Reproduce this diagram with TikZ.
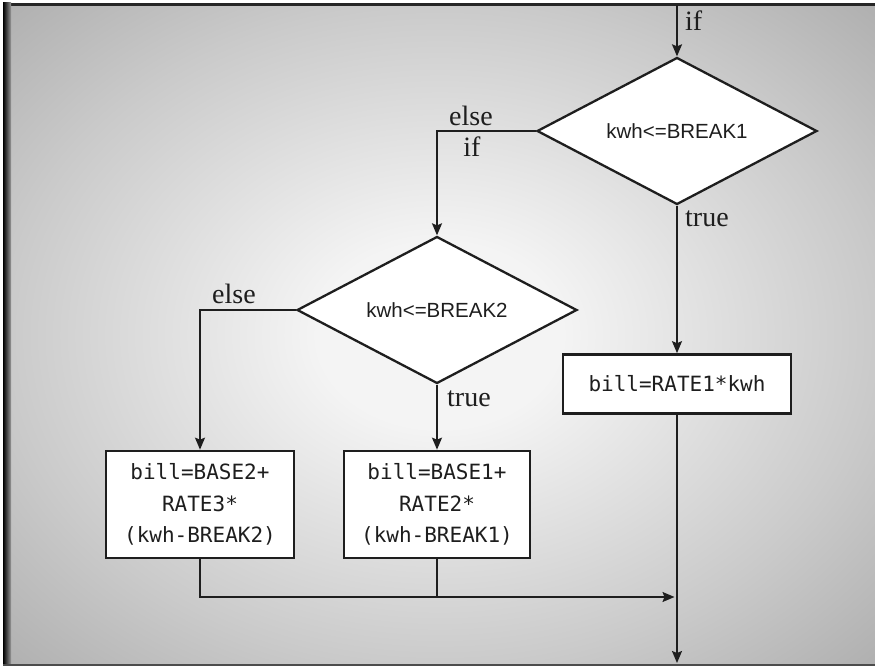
\documentclass[tikz,border=0pt]{standalone}
\usepackage{fontspec}
\usetikzlibrary{shapes.geometric,arrows.meta}
\newfontfamily\labfont{Liberation Serif}
\newfontfamily\dfont{Liberation Sans}
\newfontfamily\bfont{DejaVu Sans Mono}
\definecolor{bgin}{RGB}{244,244,244}
\definecolor{bgmid}{RGB}{202,202,202}
\definecolor{bgout}{RGB}{174,174,174}
\definecolor{ink}{RGB}{30,30,30}
\pgfdeclareradialshading{bgshade}{\pgfpoint{0bp}{0bp}}{color(0bp)=(bgin); color(7bp)=(bgin); color(25bp)=(bgmid); color(36bp)=(bgout); color(50bp)=(bgout)}
\tikzset{
  dec/.style={draw=ink, shape=diamond, aspect=1.9, line width=2.3pt, fill=white, inner sep=0pt,
    minimum width=280pt, minimum height=147pt, font=\dfont\fontsize{20.5}{24}\selectfont, text=ink},
  proc/.style={draw=ink, rectangle, line width=2.7pt, fill=white, inner sep=0pt,
    align=center, font=\bfont\fontsize{21}{31.5}\selectfont, text=ink},
  conn/.style={draw=ink, line width=1.7pt},
  arr/.style={conn, -{Stealth[length=12pt,width=10pt,inset=2pt]}},
  lab/.style={font=\labfont\fontsize{28}{30}\selectfont, text=ink, inner sep=0pt}
}
\begin{document}
\begin{tikzpicture}[x=1pt,y=-1pt]
\useasboundingbox (0,0) rectangle (875,666);
% background and frame
\fill[white] (0,0) rectangle (875,666);
\shade[shading=bgshade] (4,4) rectangle (875,666);
\fill[black!85] (4,3) rectangle (875,6.5);
\shade[left color=black, right color=black!40] (3,3) rectangle (11,666);
\fill[black!70] (3,663.5) rectangle (875,666);
% nodes
\node[dec] (d1) at (677,131) {kwh<=BREAK1};
\node[dec] (d2) at (437,310) {kwh<=BREAK2};
\node[proc, minimum width=228pt, minimum height=59pt] (b1) at (677,384) {bill=RATE1*kwh};
\node[proc, minimum width=186pt, minimum height=107pt] (b2) at (437,504.5) {bill=BASE1+\\RATE2*\\(kwh-BREAK1)};
\node[proc, minimum width=188pt, minimum height=107pt] (b3) at (200,504.5) {bill=BASE2+\\RATE3*\\(kwh-BREAK2)};
% coordinates
\coordinate (top) at (677,5);
\coordinate (j) at (677,597);
\coordinate (end) at (677,663);
% connectors
\draw[arr] (top) -- (d1.north);
\draw[arr] (d1.west) -| (d2.north);
\draw[arr] (d1.south) -- (b1.north);
\draw[arr] (d2.west) -| (b3.north);
\draw[arr] (d2.south) -- (b2.north);
\draw[arr, shorten >=2.5pt] (b3.south) |- (j);
\draw[conn] (b2.south) -- (b2.south |- j);
\draw[arr] (b1.south) -- (end);
% labels
\node[lab, anchor=base west] (lif0) at (685,31) {if};
\node[lab, anchor=base] (lelse1) at (471,125) {else};
\node[lab, anchor=base] (lif1) at (472,157) {if};
\node[lab, anchor=base west] (ltrue1) at (685,226) {true};
\node[lab, anchor=base west] (lelse2) at (212,303) {else};
\node[lab, anchor=base west] (ltrue2) at (447,406) {true};
\end{tikzpicture}
\end{document}
